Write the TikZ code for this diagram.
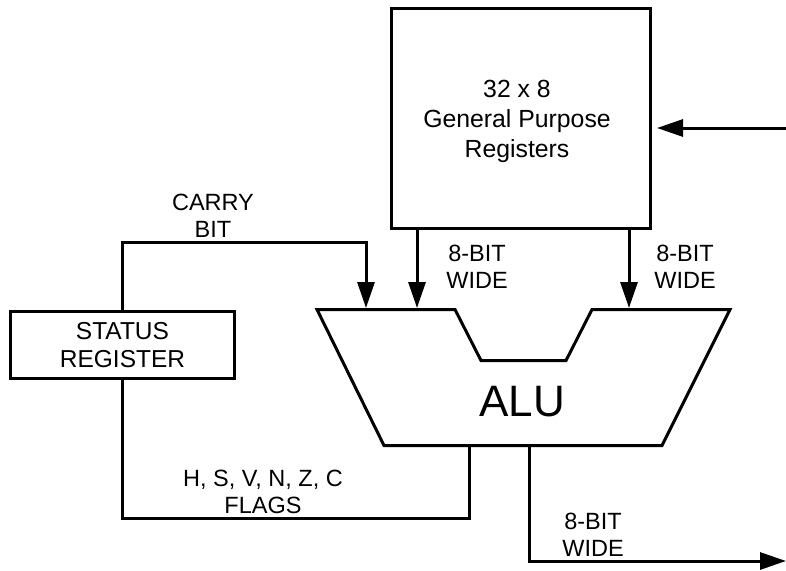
\documentclass[tikz,border=0pt]{standalone}
\usepackage{fontspec}
\setmainfont{Liberation Sans}
\usetikzlibrary{arrows.meta}
\begin{document}
\begin{tikzpicture}[x=1pt,y=-1pt,line width=3pt,line join=miter,
  box/.style={draw,line width=3pt,inner sep=0pt,align=center},
  lbl/.style={inner sep=0pt,align=center,font=\fontsize{23.5}{27.5}\selectfont},
  big/.style={inner sep=0pt,align=center,font=\fontsize{24.8}{30}\selectfont},
  arr/.style={-{Triangle[length=26pt,width=17pt]}}]
\useasboundingbox (0,0) rectangle (786,570);
% boxes
\node[box,minimum width=259pt,minimum height=220pt] (regs) at (521,118.5) {};
\node[big] (regstext) at (517,121) {32 x 8\\General Purpose\\Registers};
\node[box,minimum width=224pt,minimum height=67pt,font=\fontsize{24.5}{28}\selectfont] (status) at (122.5,345) {STATUS\\REGISTER};
% ALU
\draw (317,309.5) -- (455,309.5) -- (481,360.5) -- (566,360.5) -- (592,309.5)
  -- (730,309.5) -- (662,445.5) -- (384,445.5) -- cycle;
\node[inner sep=0pt,font=\fontsize{44}{50}\selectfont] (alu) at (522,402) {ALU};
% coordinates
\coordinate (cin) at (366,308);
\coordinate (cbend) at (366,242);
\coordinate (ina) at (417,308);
\coordinate (inb) at (629,308);
\coordinate (fout) at (469,445.5);
\coordinate (fbend) at (469,518);
\coordinate (aout) at (529,445.5);
\coordinate (oend) at (786,561);
\coordinate (rin) at (786,128);
% connectors
\draw[arr] (status.north) |- (cbend) -- (cin);
\draw[arr] (regs.south -| ina) -- (ina);
\draw[arr] (regs.south -| inb) -- (inb);
\draw (fout) -- (fbend) -| (status.south);
\draw[arr] (aout) |- (oend);
\draw[arr,shorten >=5pt] (rin) -- (regs.east |- rin);
% labels
\node[lbl] (lcarry) at (213,216) {CARRY\\BIT};
\node[lbl] (lwa) at (477,267) {8-BIT\\WIDE};
\node[lbl] (lwb) at (685,267) {8-BIT\\WIDE};
\node[lbl] (lwc) at (593,535) {8-BIT\\WIDE};
\node[lbl] (lflags) at (263,492) {H, S, V, N, Z, C\\FLAGS};
\end{tikzpicture}
\end{document}
